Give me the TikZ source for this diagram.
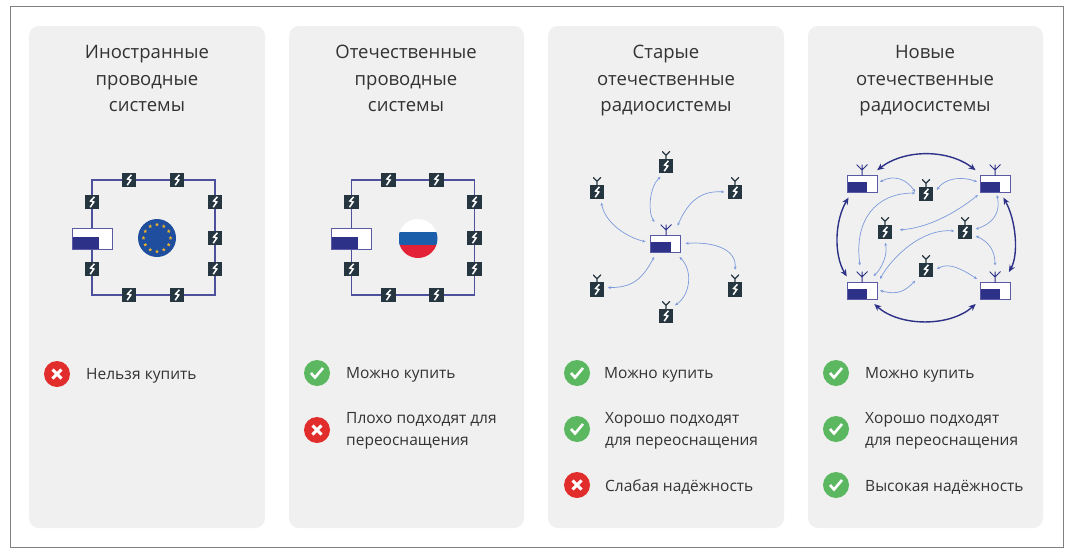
\documentclass[tikz,border=0pt]{standalone}
\usepackage{fontspec}
\setmainfont{Open Sans}
\usepackage{xcolor}
\usepackage{tikz}
\usetikzlibrary{arrows.meta,shapes.geometric}

\definecolor{panelgray}{HTML}{F0F0F0}
\definecolor{framegray}{HTML}{808080}
\definecolor{relaydark}{HTML}{263640}
\definecolor{boxblue}{HTML}{2E3188}
\definecolor{boxedge}{HTML}{5A5AA5}
\definecolor{linkblue}{HTML}{7C9ADC}
\definecolor{okgreen}{HTML}{5CB860}
\definecolor{badred}{HTML}{E22D2D}
\definecolor{inkgray}{HTML}{333333}
\definecolor{eublue}{HTML}{1F4E9E}
\definecolor{eustarc}{HTML}{F0B429}
\definecolor{rublue}{HTML}{1B5FAA}
\definecolor{rured}{HTML}{E32238}

\def\pb{path picture bounding box}
\tikzset{
  panel/.style={fill=panelgray,rounded corners=10pt},
  relay/.style={fill=relaydark,inner sep=0pt,minimum size=14.5pt,outer sep=3.5pt,
    path picture={\draw[white,line width=1.5pt] ([shift={(2.4,-5.2)}]\pb.center) -- ++(-3.8,4.2) -- ++(3.2,1) -- ++(-3.6,5.2);}},
  ymast/.style={inner sep=0pt,minimum size=8pt,outer sep=5pt,
    path picture={\draw[relaydark,line width=1.1pt] (\pb.south) -- (\pb.center) -- (\pb.north west) (\pb.center) -- (\pb.north east);}},
  forkmast/.style={inner sep=0pt,minimum size=11pt,outer sep=6pt,
    path picture={\draw[boxblue,line width=1pt] (\pb.south) -- (\pb.north) (\pb.center) -- (\pb.north west) (\pb.center) -- (\pb.north east);}},
  basebox/.style n args={4}{draw=boxedge,line width=0.9pt,fill=white,inner sep=0pt,
    minimum width=#1pt,minimum height=#2pt,
    path picture={\fill[boxblue] (\pb.south west) rectangle ++(#3,#4);}},
  widebox/.style={basebox={40}{21}{27}{-12}},
  smallbox/.style={basebox={30}{17}{20}{-10},outer sep=3pt},
  ringline/.style={draw=boxblue!85!white,line width=1.5pt},
  thinlink/.style={draw=linkblue,line width=0.7pt,{Stealth[length=3.2pt,width=2.8pt]}-{Stealth[length=3.2pt,width=2.8pt]}},
  thicklink/.style={draw=boxblue,line width=1.4pt,shorten <=3pt,shorten >=3pt,{Stealth[length=7pt,width=6pt]}-{Stealth[length=7pt,width=6pt]}},
  yesmark/.style={circle,fill=okgreen,inner sep=0pt,minimum size=26pt,
    path picture={\draw[white,line width=2.6pt] ([shift={(-6,0)}]\pb.center) -- ++(4,4.5) -- ++(8,-9.5);}},
  nomark/.style={circle,fill=badred,inner sep=0pt,minimum size=26pt,
    path picture={\draw[white,line width=3pt] ([shift={(-4.5,-4.5)}]\pb.center) -- ++(9,9) ([shift={(-4.5,4.5)}]\pb.center) -- ++(9,-9);}},
  headline/.style={align=center,text=inkgray,font=\fontsize{18.5}{26.5}\selectfont,inner sep=0pt},
  remark/.style={anchor=west,align=left,text=inkgray,font=\fontsize{15.5}{22.5}\selectfont,inner sep=0pt},
  eustar/.style={star,star points=5,star point ratio=2.3,fill=eustarc,inner sep=0pt,minimum size=4pt},
}

% ring of relays round one base box
\newcommand{\wirednet}[2]{
  \begin{scope}[xshift=#2pt]
    \node[widebox] (#1box) at (92,238.5) {};
    \coordinate (#1ne) at (215,180);
    \coordinate (#1se) at (215,295);
    \draw[ringline] (#1box.north) |- (#1ne) -- (#1se) -| (#1box.south);
    \foreach \nm/\x/\y in {ta/129/180,tb/177/180,la/92/202,lb/92/269,ra/215/202,rb/215/238,rc/215/269,ba/129/295,bb/177/295}
      \node[relay] (#1\nm) at (\x,\y) {};
  \end{scope}
}

\begin{document}
\begin{tikzpicture}[x=1pt,y=-1pt]
  \useasboundingbox (0,0) rectangle (1073,554);
  \fill[white] (0,0) rectangle (1073,554);
  \draw[framegray,line width=1pt] (10.5,6.5) rectangle (1063.5,547);

  \foreach \x/\w in {29/236,289/235,548/236,808/235}
    \fill[panel] (\x,26) rectangle ++(\w,502);

  \node[headline] (heada) at (147,78.5) {Иностранные\\проводные\\системы};
  \node[headline] (headb) at (406,78.5) {Отечественные\\проводные\\системы};
  \node[headline] (headc) at (666,81) {Старые\\отечественные\\радиосистемы};
  \node[headline] (headd) at (925,81) {Новые\\отечественные\\радиосистемы};

  % wired systems
  \wirednet{a}{0}
  \wirednet{b}{259.3}
  \node[circle,fill=eublue,inner sep=0pt,minimum size=38pt] (euflag) at (157,238) {};
  \foreach \i in {1,...,12}
    \node[eustar] (eu\i) at ([shift={(\i*30:13.5)}]euflag.center) {};
  \node[circle,inner sep=0pt,minimum size=39pt,fill=white,
    path picture={\fill[rublue] ([shift={(0,-6.5)}]\pb.west) rectangle ([shift={(0,6.5)}]\pb.east);
      \fill[rured] ([shift={(0,6.5)}]\pb.west) rectangle (\pb.south east);}] (ruflag) at (418,238.5) {};

  % old radio system
  \node[smallbox,outer sep=5pt] (boxc) at (665.5,243.5) {};
  \node[forkmast] (mastc) at (666,230) {};
  \foreach \nm/\x/\y in {a/666/166,b/597/192,c/735/192,d/597/289.5,e/735/289.5,f/666/316} {
    \node[relay] (r\nm) at (\x,\y) {};
    \node[ymast] (m\nm) at (r\nm.north) {};
  }
  \draw[thinlink] (ra.243) .. controls +(-11,10) and +(-7,-10) .. (mastc.145);
  \draw[thinlink] (rb.292) .. controls +(4,20) and +(-20,-5) .. (boxc.175);
  \draw[thinlink] (rc.west) .. controls +(-28,-2) and +(8,-18) .. (mastc.20);
  \draw[thinlink] (boxc.east) .. controls +(25,-2) and +(2,-22) .. (me.north);
  \draw[thinlink] (boxc.316) .. controls +(14,14) and +(15,-10) .. (mf.east);
  \draw[thinlink] (rd.10) .. controls +(25,0) and +(-12,22) .. (boxc.230);

  % new radio system
  \foreach \nm/\x/\y in {tl/862/183.5,tr/995/183.5,bl/862/290.5,br/995/290.5} {
    \node[smallbox] (\nm) at (\x,\y) {};
    \node[forkmast] (\nm m) at (\x,\y-13.5) {};
  }
  \foreach \nm/\x/\y in {p/926/194,q/885/232,s/965/232,t/926/270} {
    \node[relay] (r\nm) at (\x,\y) {};
    \node[ymast] (m\nm) at (r\nm.north) {};
  }
  \draw[thicklink] (tl.42) .. controls +(30,-23) and +(-30,-23) .. (tr.146);
  \draw[thicklink] (tl.224) .. controls +(-15,25) and +(-15,-25) .. (bl.140);
  \draw[thicklink,shorten >=8pt] (tr.301) .. controls +(14,25) and +(14,-25) .. (br.49);
  \draw[thicklink] (bl.311) .. controls +(28,25) and +(-28,25) .. (br.214);
  \draw[thinlink] (tl.5) .. controls +(15,-8) and +(-8,-12) .. (rp.170);
  \draw[thinlink] (rp.20) .. controls +(8,-12) and +(-15,-6) .. (tr.175);
  \draw[thinlink] (blm.100) .. controls +(-6,-45) and +(-40,0) .. (rp.175);
  \draw[thinlink,shorten <=4pt] (rq.10) .. controls +(30,-2) and +(-25,20) .. (tr.214);
  \draw[thinlink] (blm.5) .. controls +(9,-8) and +(3,10) .. (rq.south);
  \draw[thinlink] (bl.north east) .. controls +(12,-22) and +(-32,-3) .. (rs.175);
  \draw[thinlink] (bl.east) .. controls +(18,5) and +(-10,10) .. (rt.south west);
  \draw[thinlink] (rt.5) .. controls +(12,-7) and +(-15,-10) .. (br.north west);
  \draw[thinlink] (rs.15) .. controls +(15,-5) and +(4,20) .. (tr.280);
  \draw[thinlink] (rs.340) .. controls +(13,6) and +(0,-15) .. (brm.north);

  % verdicts
  \node[nomark] (ma) at (57,374) {};
  \node[remark] (ta) at (86,376) {Нельзя купить};
  \node[yesmark] (mb) at (317,373) {};
  \node[remark] (tb) at (346,375) {Можно купить};
  \node[nomark] (mbb) at (317,430) {};
  \node[remark] (tbb) at (346,431) {Плохо подходят для\\переоснащения};
  \node[yesmark] (mca) at (577,373) {};
  \node[remark] (tca) at (604,375) {Можно купить};
  \node[yesmark] (mcb) at (577,429) {};
  \node[remark] (tcb) at (605,431) {Хорошо подходят\\для переоснащения};
  \node[nomark] (mcc) at (577,485) {};
  \node[remark] (tcc) at (605,487) {Слабая надёжность};
  \node[yesmark] (mda) at (836,373) {};
  \node[remark] (tda) at (865,375) {Можно купить};
  \node[yesmark] (mdb) at (836,429) {};
  \node[remark] (tdb) at (865,431) {Хорошо подходят\\для переоснащения};
  \node[yesmark] (mdc) at (836,485) {};
  \node[remark] (tdc) at (865,487) {Высокая надёжность};
\end{tikzpicture}
\end{document}
